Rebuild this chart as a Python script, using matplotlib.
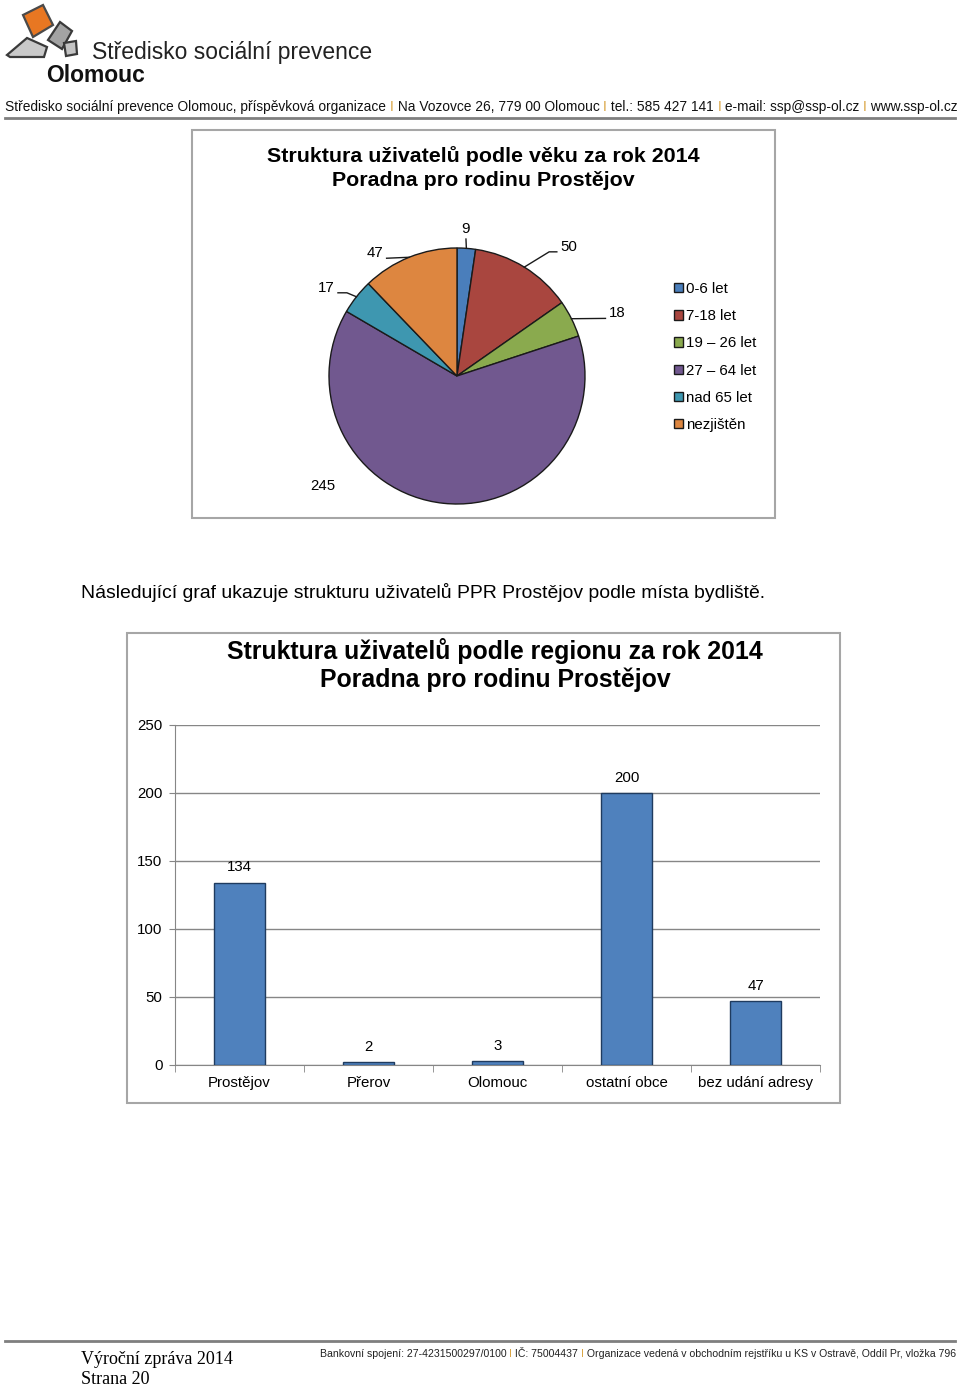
import matplotlib
matplotlib.use("Agg")
import matplotlib.pyplot as plt
from matplotlib.patches import Rectangle, Polygon
import numpy as np

plt.rcParams['font.family'] = ['Liberation Sans', 'DejaVu Sans']

# --- data ---
age_groups = ["0-6 let", "7-18 let", "19 – 26 let", "27 – 64 let", "nad 65 let", "nezjištěn"]
age_counts = [9, 50, 18, 245, 17, 47]
age_colors = ["#4A7EBB", "#A9463F", "#8AAA4E", "#71588F", "#3E97B0", "#DD8640"]

regions = ["Prostějov", "Přerov", "Olomouc", "ostatní obce", "bez udání adresy"]
region_counts = [134, 2, 3, 200, 47]
region_ticks = [0, 50, 100, 150, 200, 250]

W, H = 960, 1386
fig = plt.figure(figsize=(W / 100, H / 100), dpi=100)
fig.patch.set_facecolor("white")

# page overlay in pixel coordinates
page = fig.add_axes([0, 0, 1, 1])
page.set_xlim(0, W)
page.set_ylim(H, 0)
page.axis("off")
renderer = fig.canvas.get_renderer()


def text_run(x, y, pieces, width, size, **kw):
    # shrink the font so the whole run fits the wanted width
    probe = page.text(0, 0, "".join(s for s, _ in pieces), fontsize=size, **kw)
    full = probe.get_window_extent(renderer=renderer).width
    probe.remove()
    size = size * width / full
    for s, c in pieces:
        t = page.text(x, y, s, color=c, va="center", ha="left", fontsize=size, **kw)
        x += t.get_window_extent(renderer=renderer).width


# header logo
page.add_patch(Polygon([(7, 55), (27, 38), (47, 47), (44, 57), (10, 57)], closed=True,
                       fc="#C9C9C9", ec="#3A3A3A", lw=1.6))
page.add_patch(Polygon([(48, 40), (60, 22), (72, 31), (62, 49)], closed=True,
                       fc="#A3A3A3", ec="#3A3A3A", lw=1.6))
page.add_patch(Polygon([(64, 43), (76, 41), (77, 54), (66, 56)], closed=True,
                       fc="#C4C4C4", ec="#3A3A3A", lw=1.6))
page.add_patch(Polygon([(23, 15), (43, 5), (53, 25), (33, 37)], closed=True,
                       fc="#E87722", ec="#4A4A4A", lw=1.6))
page.text(92, 53, "Středisko sociální prevence", fontsize=16.5, va="center", color="#222222")
page.text(46, 76, "Olomouc", fontsize=16.5, fontweight="bold", va="center", color="#111111")

sep = "#D9A441"
text_run(5, 107, [("Středisko sociální prevence Olomouc, příspěvková organizace ", "#111111"),
                  ("I", sep), (" Na Vozovce 26, 779 00 Olomouc ", "#111111"),
                  ("I", sep), (" tel.: 585 427 141 ", "#111111"),
                  ("I", sep), (" e-mail: ssp@ssp-ol.cz ", "#111111"),
                  ("I", sep), (" www.ssp-ol.cz", "#111111")], 950, 10)
page.plot([5, 955], [118, 118], color="#7F7F7F", lw=2)

# chart frames
page.add_patch(Rectangle((192, 130), 583, 388, fill=False, ec="#A6A6A6", lw=1.5))
page.add_patch(Rectangle((127, 633), 713, 470, fill=False, ec="#A6A6A6", lw=1.5))

# pie titles
page.text(483, 156, "Struktura uživatelů podle věku za rok 2014", fontsize=15.4,
          fontweight="bold", ha="center", va="center")
page.text(483, 180, "Poradna pro rodinu Prostějov", fontsize=15.4,
          fontweight="bold", ha="center", va="center")

page.text(81, 593, "Následující graf ukazuje strukturu uživatelů PPR Prostějov podle místa bydliště.",
          fontsize=13.95, va="center")

page.text(495, 651, "Struktura uživatelů podle regionu za rok 2014", fontsize=17.9,
          fontweight="bold", ha="center", va="center")
page.text(495, 680, "Poradna pro rodinu Prostějov", fontsize=17.9,
          fontweight="bold", ha="center", va="center")

# footer
page.plot([5, 955], [1341, 1341], color="#7F7F7F", lw=2)
page.text(81, 1359, "Výroční zpráva 2014", family="Liberation Serif", fontsize=13, va="center")
page.text(81, 1380, "Strana 20", family="Liberation Serif", fontsize=13, va="center")
text_run(320, 1354, [("Bankovní spojení: 27-4231500297/0100 ", "#222222"), ("I", sep),
                     (" IČ: 75004437 ", "#222222"), ("I", sep),
                     (" Organizace vedená v obchodním rejstříku u KS v Ostravě, Oddíl Pr, vložka 796", "#222222")],
         635, 8.5)

# --- pie chart ---
cx, cy, R = 457, 376, 128
half = 200
pie_ax = fig.add_axes([(cx - half) / W, (H - cy - half) / H, 2 * half / W, 2 * half / H])
wedges, _ = pie_ax.pie(age_counts, colors=age_colors, startangle=90, counterclock=False,
                       radius=1, wedgeprops=dict(edgecolor="#1A1A1A", linewidth=1))
lim = half / R
pie_ax.set_xlim(-lim, lim)
pie_ax.set_ylim(-lim, lim)
pie_ax.set_aspect("equal")
pie_ax.axis("off")

# label placement (radius units) and leader elbows
label_pos = [(0.07, 1.15), (0.875, 1.01), (1.25, 0.49), (-1.05, -0.86), (-1.02, 0.69), (-0.64, 0.96)]
leader_pts = [[(0.07, 1.07)], [(0.72, 0.97), (0.78, 0.97)], [(1.16, 0.45)], [],
              [(-0.86, 0.65), (-0.93, 0.65)], [(-0.55, 0.92)]]
for w, val, pos, pts in zip(wedges, age_counts, label_pos, leader_pts):
    ang = np.deg2rad((w.theta1 + w.theta2) / 2)
    pie_ax.text(pos[0], pos[1], str(val), fontsize=10.8, ha="center", va="center")
    if not pts:
        continue
    xs = [np.cos(ang)] + [p[0] for p in pts]
    ys = [np.sin(ang)] + [p[1] for p in pts]
    pie_ax.plot(xs, ys, color="#1A1A1A", lw=1, clip_on=False)

pie_ax.legend(wedges, age_groups, loc="upper left", bbox_to_anchor=(674 / W, 1 - 282 / H),
              bbox_transform=fig.transFigure, frameon=False, fontsize=10.8,
              handlelength=0.6, handleheight=0.6, handletextpad=0.2, labelspacing=0.88,
              borderpad=0, borderaxespad=0)

# --- bar chart ---
bx0, bx1, by_top, by_bot = 175, 820, 725, 1065
bar_ax = fig.add_axes([bx0 / W, (H - by_bot) / H, (bx1 - bx0) / W, (by_bot - by_top) / H])
x = np.arange(len(regions))
bars = bar_ax.bar(x, region_counts, width=0.4, color="#4F81BD", edgecolor="#1F3B5F", lw=1, zorder=3)
bar_ax.set_xlim(-0.5, len(regions) - 0.5)
bar_ax.set_ylim(0, 250)
bar_ax.set_yticks(region_ticks)
bar_ax.yaxis.grid(True, color="#868686", lw=1)
bar_ax.set_axisbelow(True)
bar_ax.set_xticks(x)
bar_ax.set_xticklabels(regions, fontsize=10.8)
bar_ax.set_xticks(np.arange(len(regions) + 1) - 0.5, minor=True)
bar_ax.tick_params(axis="x", which="major", length=0, pad=8)
bar_ax.tick_params(axis="x", which="minor", length=5, color="#868686")
bar_ax.tick_params(axis="y", length=4, color="#868686", labelsize=10.8, pad=5)
for s in ["top", "right"]:
    bar_ax.spines[s].set_visible(False)
for s in ["left", "bottom"]:
    bar_ax.spines[s].set_color("#868686")
for b, v in zip(bars, region_counts):
    bar_ax.annotate(str(v), (b.get_x() + b.get_width() / 2, v), xytext=(0, 6),
                    textcoords="offset points", ha="center", va="bottom", fontsize=10.8)

fig.savefig("out.png", dpi=100)
